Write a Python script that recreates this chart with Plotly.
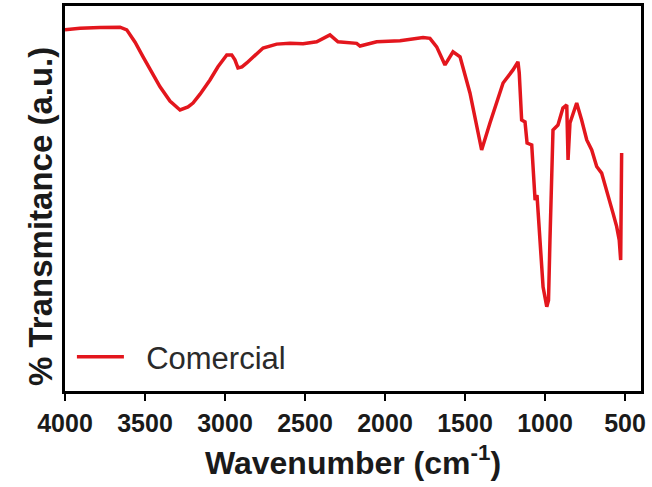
import plotly.graph_objects as go

# FTIR spectrum (wavenumber in cm^-1, transmittance in a.u.)
wavenumber = [4000, 3906, 3781, 3656, 3614, 3562, 3512, 3456, 3406, 3344,
              3281, 3231, 3200, 3156, 3094, 3044, 2989, 2958, 2938, 2919,
              2894, 2864, 2812, 2762, 2677, 2594, 2512, 2427, 2344, 2294,
              2177, 2156, 2052, 1906, 1762, 1719, 1677, 1625, 1575, 1531,
              1469, 1396, 1344, 1262, 1200, 1169, 1161, 1146, 1125, 1112,
              1083, 1075, 1062, 1050, 1031, 1012, 989, 978, 969, 950,
              919, 888, 864, 856, 844, 802, 771, 739, 708, 677,
              646, 614, 575, 552, 536, 527, 521]
transmittance = [93.8, 94.2, 94.4, 94.5, 93.8, 90.6, 86.8, 82.9, 79.0, 75.3,
                 73.0, 73.8, 74.8, 77.1, 80.8, 84.2, 87.3, 87.3, 86.0, 83.9,
                 84.2, 85.2, 87.3, 89.1, 90.1, 90.3, 90.2, 90.7, 92.5, 90.7,
                 90.3, 89.6, 90.7, 91.0, 91.8, 91.6, 89.4, 84.7, 88.1, 86.8,
                 77.4, 62.6, 69.6, 80.0, 83.4, 85.5, 82.6, 70.4, 69.9, 64.4,
                 63.9, 56.6, 49.6, 50.9, 39.2, 27.0, 21.9, 23.6, 39.2, 67.8,
                 69.1, 73.5, 74.3, 60.0, 69.6, 74.8, 70.4, 65.2, 62.6, 58.3,
                 56.6, 52.2, 46.2, 42.7, 39.2, 34.0, 61.8]
series_name = "Comercial"
x_ticks = [4000, 3500, 3000, 2500, 2000, 1500, 1000, 500]
x_title = "Wavenumber (cm<sup>-1</sup>)"
y_title = "% Transmitance (a.u.)"

FONT = "Arial, 'Liberation Sans', sans-serif"

fig = go.Figure()
fig.add_trace(go.Scatter(
    x=wavenumber, y=transmittance, mode="lines",
    name="\u00a0\u00a0" + series_name,
    line=dict(color="#e3161d", width=3.5),
))

fig.update_layout(
    width=652, height=487,
    margin=dict(l=65, r=11, t=6, b=96, autoexpand=False),
    paper_bgcolor="white", plot_bgcolor="white",
    font=dict(family=FONT, color="#1a1a1a"),
    showlegend=True,
    legend=dict(
        x=0.012, y=0.088, xanchor="left", yanchor="middle",
        bgcolor="rgba(0,0,0,0)", borderwidth=0,
        font=dict(family=FONT, size=31, color="#2a2a2a"),
        itemwidth=47,
    ),
    xaxis=dict(
        range=[4000, 400], tickvals=x_ticks, ticktext=[str(v) for v in x_ticks],
        showline=True, linecolor="black", linewidth=2.5, mirror=True,
        ticks="outside", ticklen=7, tickwidth=2, tickcolor="black",
        ticklabelstandoff=1, automargin=False,
        tickfont=dict(family=FONT, size=25, color="#1a1a1a", weight="bold"),
        showgrid=False, zeroline=False,
        title=dict(text=x_title, standoff=16,
                   font=dict(family=FONT, size=32, color="#1a1a1a", weight="bold")),
    ),
    yaxis=dict(
        range=[0, 100], showticklabels=False, ticks="", automargin=False,
        showline=True, linecolor="black", linewidth=2.5, mirror=True,
        showgrid=False, zeroline=False,
    ),
    annotations=[dict(
        text=y_title, textangle=-90, xref="paper", yref="paper",
        x=-25 / 576, y=(391 - 217) / 385, xanchor="center", yanchor="middle",
        showarrow=False,
        font=dict(family=FONT, size=33, color="#1a1a1a", weight="bold"),
    )],
)

# remove the page's default body margin so the figure sits at the window origin
fig.write_html("out.html", config={"displayModeBar": False},
               post_script="document.body.style.margin='0';")
